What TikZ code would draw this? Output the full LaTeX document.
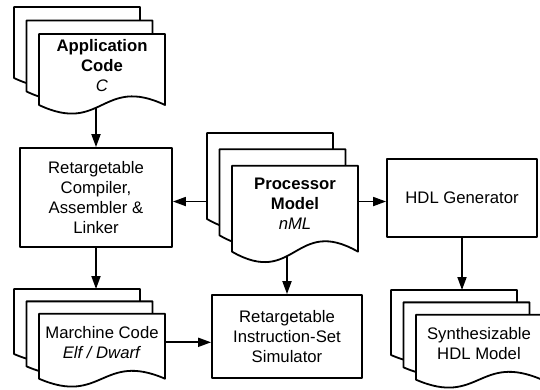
\documentclass[tikz,border=0pt]{standalone}
\usepackage{fontspec}
\setmainfont{Liberation Sans}
\usetikzlibrary{arrows.meta}
\pgfdeclarelayer{back}
\pgfsetlayers{back,main}
\tikzset{
  box/.style={draw, line width=1.8pt, align=center, inner sep=0pt},
  page/.style={draw, fill=white, line width=1.8pt},
  pagetext/.style={align=center},
  flow/.style={-{Triangle[length=13pt,width=9pt]}, line width=1.8pt},
}
% stack of three pages: name, x, y of the back page, height, text
\newcommand{\pagestack}[5]{%
  \coordinate (#1-top) at (#2,#3);
  \foreach \i in {0,1,2}{%
    \pgfmathsetmacro{\px}{#2+12.5*\i}
    \pgfmathsetmacro{\py}{#3+0.19*#4*\i}
    \draw[page] (\px,\py) -- (\px+126,\py) -- (\px+126,\py+#4)
      .. controls (\px+63,\py+#4-0.42*#4) and (\px+63,\py+#4+0.42*#4) .. (\px,\py+#4) -- cycle;
  }
  \node[pagetext] (#1) at (#2+88, #3+0.82*#4) {#5};
}
\begin{document}
\begin{tikzpicture}[x=1pt, y=-1pt, font=\fontsize{16.7}{20}\selectfont, line join=round]
  \useasboundingbox (0,0) rectangle (540,389);
  % input and output documents
  \pagestack{app}{14}{7}{71}{\textbf{Application}\\\textbf{Code}\\\textit{C}}
  \pagestack{proc}{207}{133}{86}{\textbf{Processor}\\\textbf{Model}\\\textit{nML}}
  \pagestack{mach}{14}{289}{65}{Marchine Code\\\textit{Elf / Dwarf}}
  \pagestack{synth}{391}{290}{65}{Synthesizable\\HDL Model}
  \coordinate (proc-mid) at ([yshift=2pt]proc.center);
  % tools
  \node[box, minimum width=152pt, minimum height=99pt] (compiler) at (96,197.5)
    {Retargetable\\Compiler,\\Assembler \&\\Linker};
  \node[box, minimum width=150pt, minimum height=78pt] (hdl) at (462,198) {HDL Generator};
  \node[box, minimum width=150pt, minimum height=83pt] (sim) at (287,336.5)
    {Retargetable\\Instruction-Set\\Simulator};
  % flow
  \begin{pgfonlayer}{back}
    \draw[flow] (compiler.north |- app) -- (compiler.north);
    \draw[flow] (compiler.south) -- (compiler.south |- mach-top);
    \draw[flow] (proc-mid) -- (compiler.east |- proc-mid);
    \draw[flow] (proc-mid) -- (hdl.west |- proc-mid);
    \draw[flow] (sim.north |- proc) -- (sim.north);
    \draw[flow] (hdl.south) -- (hdl.south |- synth-top);
    \draw[flow] (mach) -- (sim.west |- mach);
  \end{pgfonlayer}
\end{tikzpicture}
\end{document}
